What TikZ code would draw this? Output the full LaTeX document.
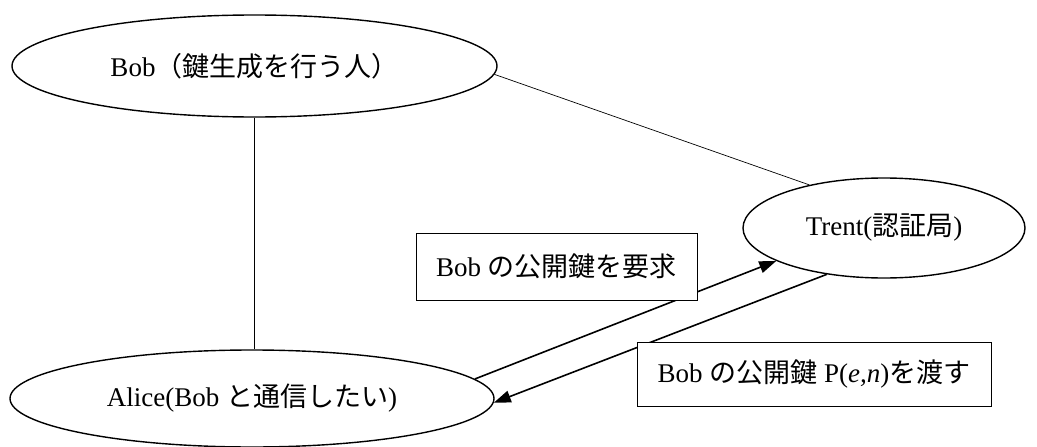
\documentclass[tikz,border=0pt]{standalone}
\usepackage{fontspec}
\setmainfont{Liberation Serif}
\newfontfamily\jpfont{Noto Sans CJK JP}
\usetikzlibrary{shapes.geometric,arrows.meta}
\newcommand\jp[1]{{\jpfont #1}}
\begin{document}
\begin{tikzpicture}[x=1pt,y=-1pt,
  txt/.style={font=\fontsize{27}{31}\selectfont},
  oval/.style={ellipse, draw, line width=1.4pt, inner sep=0pt, txt},
  msgbox/.style={rectangle, draw, line width=0.8pt, inner sep=0pt, fill=white, txt},
  link/.style={line width=0.7pt},
  msg/.style={line width=1.6pt, -{Triangle[length=17pt,width=12pt]}}]
\useasboundingbox (0,0) rectangle (1037,447);
\node[oval, minimum width=485pt, minimum height=102pt] (bob) at (254.5,66) {Bob\jp{（鍵生成を行う人）}};
\node[oval, minimum width=282pt, minimum height=100pt] (trent) at (884,228) {Trent(\jp{認証局})};
\node[oval, minimum width=484pt, minimum height=97pt] (alice) at (252,398.5) {Alice(Bob \jp{と通信したい})};
\draw[link] (bob.-2) -- (trent.150.5);
\draw[link] (bob.south) -- (bob.south |- alice.north);
\draw[msg] (alice.5) -- (trent.197);
\draw[msg] (trent.219) -- (alice.-1);
\node[msgbox, minimum width=281pt, minimum height=67pt] (req) at (556.5,266.5) {Bob \jp{の公開鍵を要求}};
\node[msgbox, minimum width=354pt, minimum height=64pt] (give) at (814,374) {Bob \jp{の公開鍵} P(\textit{e,n})\jp{を渡す}};
\end{tikzpicture}
\end{document}
